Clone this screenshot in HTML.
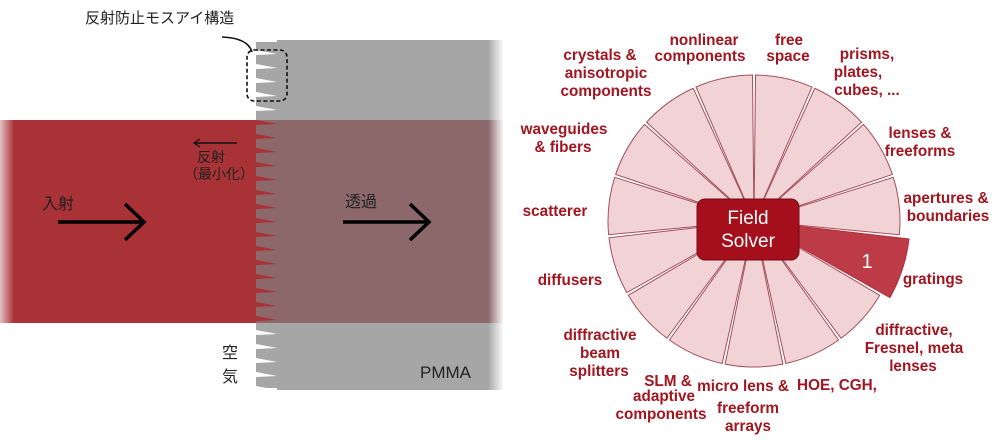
<!DOCTYPE html>
<html><head><meta charset="utf-8"><style>
html,body{margin:0;padding:0;background:#fff;}
svg{display:block;}
.r{font-family:"Liberation Sans",sans-serif;font-weight:bold;font-size:15.3px;fill:#a3151f;text-anchor:middle;}
.j{font-family:"Liberation Sans","Noto Sans CJK JP",sans-serif;font-size:15px;fill:#222;}
</style></head><body>
<svg width="1000" height="444" viewBox="0 0 1000 444" xmlns="http://www.w3.org/2000/svg">
<defs>
<pattern id="pg" patternUnits="userSpaceOnUse" x="256" y="42" width="21" height="14">
<path d="M0,0H21V12L0,8Z M0,13L21,12V14H0Z" fill="#a6a6a6"/>
</pattern>
<pattern id="pm" patternUnits="userSpaceOnUse" x="256" y="42" width="21" height="14">
<path d="M0,0H21V12L0,8Z M0,13L21,12V14H0Z" fill="#8c686b"/>
</pattern>
<linearGradient id="fr" x1="0" x2="1"><stop offset="0" stop-color="#fff" stop-opacity="0"/><stop offset="1" stop-color="#fff" stop-opacity="1"/></linearGradient>
<linearGradient id="fl" x1="0" x2="1"><stop offset="0" stop-color="#fff" stop-opacity="0.7"/><stop offset="1" stop-color="#fff" stop-opacity="0"/></linearGradient>
<path id="w" d="M0,0 L145.99,1.53 A146,146 0 0 1 133.97,57.99 Z" fill="#f1d2d5" stroke="#a4505c" stroke-width="1"/>
</defs>
<rect x="277" y="40" width="226" height="350" fill="#a6a6a6"/>
<rect x="256" y="42" width="21" height="346" fill="url(#pg)"/>
<rect x="0" y="120" width="503" height="203" fill="#a83236"/>
<rect x="277" y="120" width="226" height="203" fill="#8c686b"/>
<rect x="256" y="120" width="21" height="203" fill="url(#pm)"/>
<rect x="0" y="120" width="14" height="203" fill="url(#fl)"/>
<rect x="488" y="38" width="16" height="354" fill="url(#fr)"/>
<rect x="247" y="50" width="40" height="51" rx="7" fill="none" stroke="#111" stroke-width="1.6" stroke-dasharray="4,2.5"/>
<path d="M222,37 Q248,38 252,52" fill="none" stroke="#111" stroke-width="1.6"/>
<text class="j" x="85" y="23">反射防止モスアイ構造</text>
<line x1="194" y1="143" x2="237" y2="143" stroke="#111" stroke-width="1.5"/>
<path d="M200,139 L194,143 L200,147" fill="none" stroke="#111" stroke-width="1.3"/>
<text class="j" x="197" y="162" style="font-size:14px">反射</text>
<text class="j" x="184" y="179" style="font-size:14px">（最小化）</text>
<text class="j" x="42" y="209" style="font-size:16px">入射</text>
<line x1="58" y1="222" x2="143" y2="222" stroke="#000" stroke-width="3.5"/>
<path d="M125,204 L144,222 L125,240" fill="none" stroke="#000" stroke-width="3.5"/>
<text class="j" x="345" y="207" style="font-size:16px">透過</text>
<line x1="343" y1="222" x2="428" y2="222" stroke="#000" stroke-width="3.5"/>
<path d="M410,204 L429,222 L410,240" fill="none" stroke="#000" stroke-width="3.5"/>
<text class="j" x="222" y="358" style="font-size:16px">空</text>
<text class="j" x="222" y="382" style="font-size:16px">気</text>
<text class="j" x="420" y="378" style="font-size:17px">PMMA</text>
<g transform="translate(754,221)">
<use href="#w" transform="rotate(30)"/>
<use href="#w" transform="rotate(54)"/>
<use href="#w" transform="rotate(78)"/>
<use href="#w" transform="rotate(102)"/>
<use href="#w" transform="rotate(126)"/>
<use href="#w" transform="rotate(150)"/>
<use href="#w" transform="rotate(174)"/>
<use href="#w" transform="rotate(198)"/>
<use href="#w" transform="rotate(222)"/>
<use href="#w" transform="rotate(246)"/>
<use href="#w" transform="rotate(270)"/>
<use href="#w" transform="rotate(294)"/>
<use href="#w" transform="rotate(318)"/>
<use href="#w" transform="rotate(342)"/>
<path transform="rotate(6)" d="M0,0 L155.99,1.63 A156,156 0 0 1 143.15,61.96 Z" fill="#bd3a47" stroke="#b0303c" stroke-width="1"/>
</g>
<text x="867" y="268" style="font-family:'Liberation Sans',sans-serif;font-size:20px;fill:#fff;text-anchor:middle">1</text>
<rect x="697" y="199" width="102" height="61" rx="8" fill="#a50f1c" stroke="#6e0c16" stroke-width="1"/>
<text x="748" y="224" style="font-family:'Liberation Sans',sans-serif;font-size:19px;fill:#fff;text-anchor:middle">Field</text>
<text x="748" y="247" style="font-family:'Liberation Sans',sans-serif;font-size:19px;fill:#fff;text-anchor:middle">Solver</text>
<text class="r" x="704" y="45">nonlinear</text>
<text class="r" x="700" y="61">components</text>
<text class="r" x="789" y="45">free</text>
<text class="r" x="788" y="61">space</text>
<text class="r" x="867" y="59">prisms,</text>
<text class="r" x="858" y="77">plates,</text>
<text class="r" x="867" y="95">cubes, ...</text>
<text class="r" x="600" y="60">crystals &amp;</text>
<text class="r" x="606" y="78">anisotropic</text>
<text class="r" x="606" y="96">components</text>
<text class="r" x="564" y="134">waveguides</text>
<text class="r" x="563" y="152">&amp; fibers</text>
<text class="r" x="920" y="138">lenses &amp;</text>
<text class="r" x="920" y="156">freeforms</text>
<text class="r" x="555" y="216">scatterer</text>
<text class="r" x="946" y="203">apertures &amp;</text>
<text class="r" x="948" y="221">boundaries</text>
<text class="r" x="933" y="284">gratings</text>
<text class="r" x="570" y="285">diffusers</text>
<text class="r" x="914" y="335">diffractive,</text>
<text class="r" x="914" y="353">Fresnel, meta</text>
<text class="r" x="913" y="371">lenses</text>
<text class="r" x="600" y="340">diffractive</text>
<text class="r" x="600" y="358">beam</text>
<text class="r" x="599" y="376">splitters</text>
<text class="r" x="668" y="386">SLM &amp;</text>
<text class="r" x="664" y="401">adaptive</text>
<text class="r" x="661" y="419">components</text>
<text class="r" x="743" y="391">micro lens &amp;</text>
<text class="r" x="748" y="413">freeform</text>
<text class="r" x="748" y="431">arrays</text>
<text class="r" x="837" y="390">HOE, CGH,</text>
</svg>
</body></html>
